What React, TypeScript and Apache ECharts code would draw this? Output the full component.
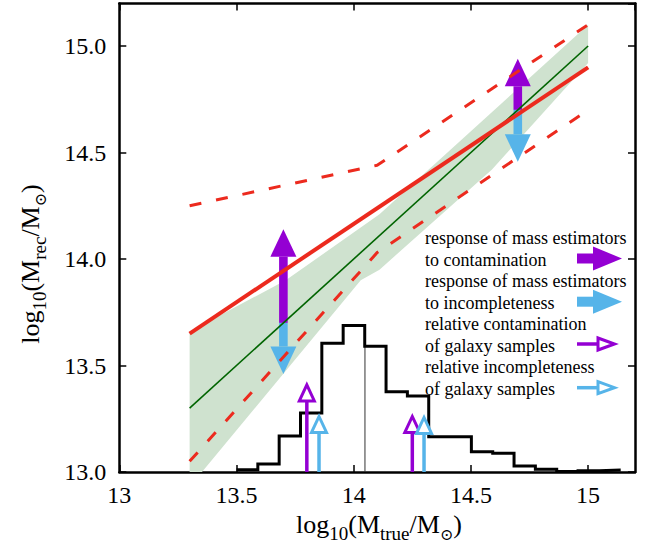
import React, { useEffect, useRef } from 'react';
import * as echarts from 'echarts';

// ---- data ----
const xTickValues = [13, 13.5, 14, 14.5, 15];
const yTickValues = [13.0, 13.5, 14.0, 14.5, 15.0];

// shaded band (upper and lower edges)
const bandUpperX = [13.3, 13.71, 14.11, 14.32, 15.0];
const bandUpperY = [13.66, 13.9, 14.21, 14.42, 15.1];
const bandLowerX = [13.3, 14.03, 14.11, 14.59, 15.0];
const bandLowerY = [12.93, 13.9, 13.95, 14.42, 14.92];

// one-to-one line
const oneX = [13.3, 15.0];
const oneY = [13.3, 15.0];

// red fit line
const fitX = [13.3, 15.0];
const fitY = [13.65, 14.9];

// red dashed scatter bounds
const upperDashX = [13.3, 14.1, 15.0];
const upperDashY = [14.25, 14.44, 15.1];
const lowerDashX = [13.3, 14.1, 15.0];
const lowerDashY = [13.05, 14.03, 14.7];

// histogram
const histEdges = [13.5, 13.591, 13.682, 13.773, 13.864, 13.955, 14.047, 14.138, 14.229, 14.32, 14.411, 14.502, 14.593, 14.684, 14.775, 14.866, 14.957, 15.048, 15.139];
const histValues = [13.01, 13.037, 13.169, 13.277, 13.605, 13.688, 13.59, 13.377, 13.357, 13.166, 13.166, 13.095, 13.088, 13.028, 13.013, 13.002, 13.006, 13.009];
const medianX = 14.048;
const medianTop = 13.59;

// big response arrows
const bigArrowX = [13.7, 14.7];
const bigArrowBase = [13.7, 14.7];
const bigPurpleTip = [14.14, 14.94];
const bigBlueTip = [13.46, 14.457];

// small hollow arrows
const smallBase = 13.0;
const smallPurpleX = [13.8, 14.25];
const smallPurpleTip = [13.416, 13.268];
const smallBlueX = [13.852, 14.3];
const smallBlueTip = [13.268, 13.263];

const legendLines = [
  'response of mass estimators',
  'to contamination',
  'response of mass estimators',
  'to incompleteness',
  'relative contamination',
  'of galaxy samples',
  'relative incompleteness',
  'of galaxy samples',
];

const PURPLE = '#9400d3';
const BLUE = '#56b4e9';
const RED = '#ec2a1e';
const GREEN = '#006400';
const BAND = '#cfe2cf';
const FONT = "'Liberation Serif', 'Times New Roman', serif";

const zip = (a: number[], b: number[]) => a.map((v, i) => [v, b[i]]);

function filledArrow(color: string) {
  return (params: any, api: any) => {
    const x = api.value(0);
    const p0 = api.coord([x, api.value(1)]);
    const p1 = api.coord([x, api.value(2)]);
    const dir = p1[1] > p0[1] ? 1 : -1;
    const headLen = 27.5;
    const headHalf = 13;
    const shaftHalf = 4.3;
    const hb = p1[1] - dir * headLen;
    return {
      type: 'group',
      children: [
        {
          type: 'rect',
          shape: { x: p0[0] - shaftHalf, y: Math.min(p0[1], hb), width: 2 * shaftHalf, height: Math.abs(hb - p0[1]) },
          style: { fill: color },
        },
        {
          type: 'polygon',
          shape: { points: [[p1[0] - headHalf, hb], [p1[0], p1[1]], [p1[0] + headHalf, hb]] },
          style: { fill: color },
        },
      ],
    };
  };
}

function hollowArrow(color: string) {
  return (params: any, api: any) => {
    const x = api.value(0);
    const p0 = api.coord([x, api.value(1)]);
    const p1 = api.coord([x, api.value(2)]);
    const headLen = 16;
    const headHalf = 7.5;
    const tipY = p1[1] + 1.5;
    const hb = tipY + headLen;
    return {
      type: 'group',
      children: [
        {
          type: 'line',
          shape: { x1: p0[0], y1: p0[1], x2: p0[0], y2: hb },
          style: { stroke: color, lineWidth: 3.5 },
        },
        {
          type: 'polygon',
          shape: { points: [[p1[0] - headHalf, hb], [p1[0], tipY], [p1[0] + headHalf, hb]] },
          style: { fill: '#fff', stroke: color, lineWidth: 3 },
        },
      ],
    };
  };
}

export default function App() {
  const ref = useRef<HTMLDivElement>(null);

  useEffect(() => {
    if (!ref.current) return;
    const chart = echarts.init(ref.current, undefined, { renderer: 'svg' });

    const histData: number[][] = histValues.map((v, i) => [histEdges[i], v]);
    histData.push([histEdges[histEdges.length - 1], histValues[histValues.length - 1]]);

    const axisCommon = {
      type: 'value' as const,
      splitLine: { show: false },
      axisLine: { show: true, onZero: false, lineStyle: { color: '#000', width: 2.5 } },
      axisTick: { show: true, inside: true, length: 7, lineStyle: { color: '#000', width: 1.5 } },
    };

    const legendY0 = 238;
    const legendStep = 21.5;
    const legendGraphics: any[] = legendLines.map((t, i) => ({
      type: 'text',
      x: 425,
      y: legendY0 + i * legendStep,
      style: { text: t, fontSize: 18, fontFamily: FONT, fill: '#000', align: 'left', verticalAlign: 'middle' },
      z: 100,
    }));

    const filledLegend = (cy: number, color: string) => [
      { type: 'rect', shape: { x: 577, y: cy - 5, width: 17, height: 10 }, style: { fill: color }, z: 100 },
      { type: 'polygon', shape: { points: [[593, cy - 12], [622, cy], [593, cy + 12]] }, style: { fill: color }, z: 100 },
    ];
    const hollowLegend = (cy: number, color: string) => [
      { type: 'line', shape: { x1: 577, y1: cy, x2: 598, y2: cy }, style: { stroke: color, lineWidth: 3.5 }, z: 100 },
      { type: 'polygon', shape: { points: [[598, cy - 6], [614.5, cy], [598, cy + 6]] }, style: { fill: '#fff', stroke: color, lineWidth: 3 }, z: 100 },
    ];

    const richTitle = {
      b: { fontSize: 26, fontFamily: FONT, lineHeight: 31, verticalAlign: 'top' },
      s: { fontSize: 19, fontFamily: FONT, lineHeight: 31, verticalAlign: 'bottom' },
      o: { fontSize: 16, fontFamily: "'DejaVu Serif', 'DejaVu Sans', serif", lineHeight: 31, verticalAlign: 'bottom' },
    };

    const option: any = {
      animation: false,
      backgroundColor: '#fff',
      grid: { left: 119.3, right: 19, top: 3.4, bottom: 85, containLabel: false },
      xAxis: [
        {
          ...axisCommon,
          position: 'bottom',
          min: 13,
          max: 15.2,
          interval: 0.5,
          axisLabel: {
            show: true,
            showMaxLabel: false,
            margin: 11,
            color: '#000',
            fontSize: 24,
            fontFamily: FONT,
            formatter: (v: number) => (xTickValues.indexOf(v) >= 0 ? String(v) : ''),
          },
        },
        {
          ...axisCommon,
          position: 'top',
          min: 13,
          max: 15.2,
          interval: 0.5,
          axisLabel: { show: false },
        },
      ],
      yAxis: [
        {
          ...axisCommon,
          position: 'left',
          min: 13,
          max: 15.2,
          interval: 0.5,
          axisLabel: {
            show: true,
            showMaxLabel: false,
            margin: 13,
            color: '#000',
            fontSize: 24,
            fontFamily: FONT,
            formatter: (v: number) => (yTickValues.indexOf(v) >= 0 ? v.toFixed(1) : ''),
          },
        },
        {
          ...axisCommon,
          position: 'right',
          min: 13,
          max: 15.2,
          interval: 0.5,
          axisLabel: { show: false },
        },
      ],
      series: [
        {
          type: 'custom',
          name: 'band',
          clip: true,
          z: 1,
          data: [[bandUpperX[0], bandUpperY[0]]],
          renderItem: (params: any, api: any) => {
            const pts: number[][] = [];
            for (let i = 0; i < bandUpperX.length; i++) pts.push(api.coord([bandUpperX[i], bandUpperY[i]]));
            for (let i = bandLowerX.length - 1; i >= 0; i--) pts.push(api.coord([bandLowerX[i], bandLowerY[i]]));
            return { type: 'polygon', shape: { points: pts }, style: { fill: BAND } };
          },
        },
        {
          type: 'custom',
          name: 'purple big',
          z: 2,
          data: bigArrowX.map((x, i) => [x, bigArrowBase[i], bigPurpleTip[i]]),
          renderItem: filledArrow(PURPLE),
        },
        {
          type: 'custom',
          name: 'blue big',
          z: 2,
          data: bigArrowX.map((x, i) => [x, bigArrowBase[i], bigBlueTip[i]]),
          renderItem: filledArrow(BLUE),
        },
        {
          type: 'line',
          name: 'one-to-one',
          z: 3,
          symbol: 'none',
          data: zip(oneX, oneY),
          lineStyle: { color: GREEN, width: 1.6 },
        },
        {
          type: 'line',
          name: 'upper dashed',
          z: 4,
          symbol: 'none',
          data: zip(upperDashX, upperDashY),
          lineStyle: { color: RED, width: 3, type: [12, 15] },
        },
        {
          type: 'line',
          name: 'lower dashed',
          z: 4,
          symbol: 'none',
          data: zip(lowerDashX, lowerDashY),
          lineStyle: { color: RED, width: 3, type: [12, 15] },
        },
        {
          type: 'line',
          name: 'fit',
          z: 5,
          symbol: 'none',
          data: zip(fitX, fitY),
          lineStyle: { color: RED, width: 4 },
        },
        {
          type: 'line',
          name: 'median',
          z: 5,
          symbol: 'none',
          data: [[medianX, 13.0], [medianX, medianTop]],
          lineStyle: { color: '#333', width: 1 },
        },
        {
          type: 'line',
          name: 'histogram',
          z: 6,
          symbol: 'none',
          step: 'end',
          data: histData,
          lineStyle: { color: '#000', width: 3, join: 'miter' },
        },
        {
          type: 'custom',
          name: 'purple small',
          z: 7,
          data: smallPurpleX.map((x, i) => [x, smallBase, smallPurpleTip[i]]),
          renderItem: hollowArrow(PURPLE),
        },
        {
          type: 'custom',
          name: 'blue small',
          z: 7,
          data: smallBlueX.map((x, i) => [x, smallBase, smallBlueTip[i]]),
          renderItem: hollowArrow(BLUE),
        },
      ],
      graphic: [
        ...legendGraphics,
        ...filledLegend(258.5, PURPLE),
        ...filledLegend(301.7, BLUE),
        ...hollowLegend(344, PURPLE),
        ...hollowLegend(387.7, BLUE),
        {
          type: 'text',
          x: 379,
          y: 527,
          z: 100,
          style: {
            text: '{b|log}{s|10}{b|(M}{s|true}{b|/M}{o|⊙}{b|)}',
            rich: richTitle,
            fill: '#000',
            align: 'center',
            verticalAlign: 'middle',
          },
        },
        {
          type: 'text',
          x: 33,
          y: 264,
          rotation: Math.PI / 2,
          z: 100,
          style: {
            text: '{b|log}{s|10}{b|(M}{s|rec}{b|/M}{o|⊙}{b|)}',
            rich: richTitle,
            fill: '#000',
            align: 'center',
            verticalAlign: 'middle',
          },
        },
      ],
    };

    chart.setOption(option);
    return () => chart.dispose();
  }, []);

  return (
    <div
      ref={ref}
      style={{ position: 'fixed', left: 0, top: 0, width: 654, height: 557, background: '#fff' }}
    />
  );
}
